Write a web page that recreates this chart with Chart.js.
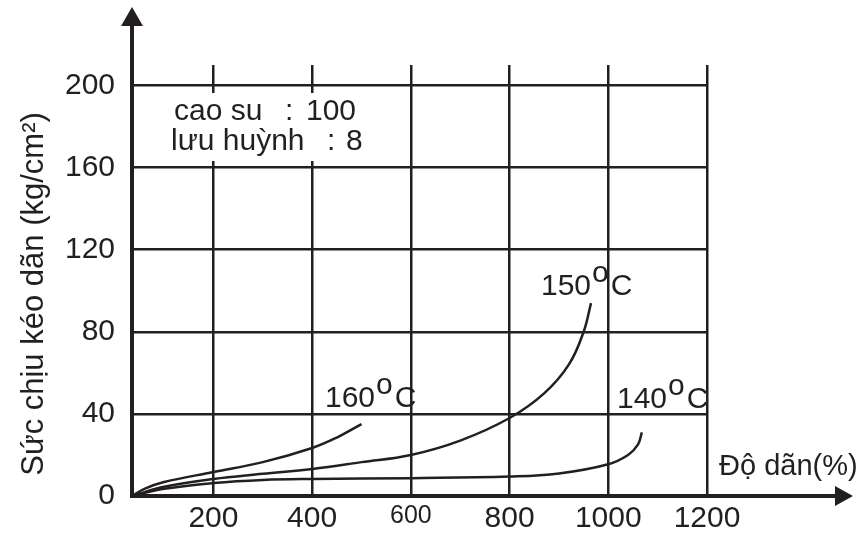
<!DOCTYPE html>
<html lang="vi">
<head>
    <meta charset="UTF-8">
    <title>Sức chịu kéo dãn</title>
    <script src="https://cdn.jsdelivr.net/npm/chart.js"></script>
    <style>
        body { margin: 0; background: #fff; }
        #wrap { width: 865px; height: 535px; position: relative; }
    </style>
</head>
<body>
    <div id="wrap"><canvas id="chart"></canvas></div>

    <script>
        // === data ===
        const xTicks = [200, 400, 600, 800, 1000, 1200];
        const yTicks = [0, 40, 80, 120, 160, 200];

        const x160 = [35, 60, 100, 200, 300, 400, 450, 500];
        const y160 = [0, 3.5, 6.8, 11.7, 16.5, 23.4, 28.5, 35];

        const x150 = [35, 100, 200, 300, 400, 500, 600, 700, 800, 870, 920, 950, 965];
        const y150 = [0, 4.5, 8.3, 10.8, 13.2, 16.5, 20, 27, 38, 50, 64, 80, 94];

        const x140 = [35, 100, 200, 300, 400, 600, 800, 900, 1000, 1040, 1060, 1068];
        const y140 = [0, 3.5, 6.3, 7.8, 8.3, 8.7, 9.5, 11, 15.5, 20, 25, 31];

        const INK = "#231f20";
        const FONT = "'Liberation Sans', Arial, sans-serif";

        function pts(xs, ys) {
            return xs.map((x, i) => ({ x: x, y: ys[i] }));
        }

        function curve(xs, ys) {
            return {
                data: pts(xs, ys),
                showLine: true,
                borderColor: INK,
                borderWidth: 2.5,
                pointRadius: 0,
                tension: 0.4,
                clip: false
            };
        }

        // superscript "o" degree labels
        function degLabel(ctx, num, x, y) {
            ctx.fillText(num, x, y);
            let w = ctx.measureText(num).width;
            ctx.fillText("o", x + w + 1, y - 13);
            let wo = ctx.measureText("o").width;
            ctx.fillText("C", x + w + wo + 3, y);
        }

        const decor = {
            id: "decor",
            afterDraw(chart) {
                const ctx = chart.ctx;
                const a = chart.chartArea;
                ctx.save();

                // axes with arrows
                ctx.strokeStyle = INK;
                ctx.fillStyle = INK;
                ctx.lineWidth = 4;
                ctx.beginPath();
                ctx.moveTo(a.left, a.bottom);
                ctx.lineTo(a.left, 24);
                ctx.moveTo(a.left - 2, a.bottom);
                ctx.lineTo(836, a.bottom);
                ctx.stroke();

                ctx.beginPath();
                ctx.moveTo(a.left, 7);
                ctx.lineTo(a.left - 11, 26);
                ctx.lineTo(a.left + 11, 26);
                ctx.closePath();
                ctx.fill();

                ctx.beginPath();
                ctx.moveTo(853, a.bottom);
                ctx.lineTo(835, a.bottom - 10);
                ctx.lineTo(835, a.bottom + 10);
                ctx.closePath();
                ctx.fill();

                // legend box
                ctx.fillStyle = "#fff";
                ctx.fillRect(165, 93, 212, 68);
                ctx.fillStyle = INK;
                ctx.font = "30px " + FONT;
                ctx.textBaseline = "alphabetic";
                ctx.textAlign = "left";
                ctx.fillText("cao su", 174, 120);
                ctx.fillText(":", 285, 120);
                ctx.fillText("100", 306, 120);
                ctx.fillText("lưu huỳnh", 171, 150);
                ctx.fillText(":", 327, 150);
                ctx.fillText("8", 346, 150);

                degLabel(ctx, "160", 325, 407);
                degLabel(ctx, "150", 541, 295);
                degLabel(ctx, "140", 617, 408);

                ctx.font = "29px " + FONT;
                ctx.fillText("Độ dãn(%)", 719, 475);

                // y title
                ctx.font = "31px " + FONT;
                ctx.translate(43, 294);
                ctx.rotate(-Math.PI / 2);
                ctx.textAlign = "center";
                ctx.fillText("Sức chịu kéo dãn (kg/cm²)", 0, 0);
                ctx.restore();
            }
        };

        new Chart(document.getElementById("chart"), {
            type: "scatter",
            data: {
                datasets: [curve(x160, y160), curve(x150, y150), curve(x140, y140)]
            },
            options: {
                responsive: true,
                maintainAspectRatio: false,
                animation: false,
                layout: { padding: { top: 65, right: 158, left: 0, bottom: 0 } },
                plugins: { legend: { display: false }, tooltip: { enabled: false } },
                scales: {
                    x: {
                        type: "linear",
                        min: 35,
                        max: 1200,
                        afterBuildTicks: s => { s.ticks = xTicks.map(v => ({ value: v })); },
                        afterFit: s => { s.height = 39; },
                        border: { display: false },
                        grid: { color: INK, lineWidth: 2.5, drawTicks: false },
                        ticks: {
                            color: INK,
                            padding: 5,
                            maxRotation: 0,
                            callback: v => String(v),
                            font: c => ({ family: FONT, size: c.tick && c.tick.value === 600 ? 25 : 30 })
                        }
                    },
                    y: {
                        min: 0,
                        max: 210,
                        afterBuildTicks: s => { s.ticks = yTicks.map(v => ({ value: v })); },
                        afterFit: s => { s.width = 132; },
                        border: { display: false },
                        grid: { color: INK, lineWidth: 2.5, drawTicks: false },
                        ticks: {
                            color: INK,
                            padding: 17,
                            callback: v => String(v),
                            font: { family: FONT, size: 30 }
                        }
                    }
                }
            },
            plugins: [decor]
        });
    </script>
</body>
</html>
